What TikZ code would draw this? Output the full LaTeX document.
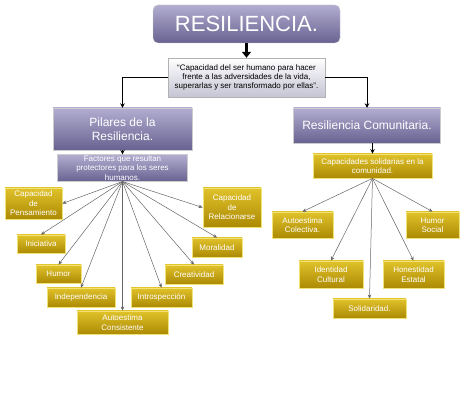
\documentclass[tikz,border=0pt]{standalone}
\usepackage{fontspec}
\setmainfont{Liberation Sans}
\usepackage{xcolor}
\usetikzlibrary{arrows.meta}
\definecolor{pTop}{RGB}{178,173,208}
\definecolor{pBot}{RGB}{104,98,145}
\definecolor{gTop}{RGB}{224,194,42}
\definecolor{gBot}{RGB}{172,138,4}
\definecolor{gEdge}{RGB}{242,226,118}
\definecolor{qBot}{RGB}{196,196,212}

\begin{document}
\begin{tikzpicture}[x=1pt, y=-1pt, font=\fontsize{8}{9.4}\selectfont,
  purplebox/.style={draw=gray!40, top color=pTop, bottom color=pBot, text=white, align=center, inner sep=1pt},
  goldbox/.style={draw=gEdge, line width=0.8pt, top color=gTop, bottom color=gBot, text=white, align=center, inner sep=1pt},
  fan/.style={-{Stealth[length=4pt,width=3.5pt]}, draw=black!60, line width=0.5pt},
  link/.style={-{Stealth[length=4.5pt,width=4.5pt]}, line width=0.9pt}]
\fill[white] (0,0) rectangle (474,403);
\useasboundingbox (0,0) rectangle (474,403);
% top of the map
\node[purplebox, rounded corners=5pt, minimum width=187pt, minimum height=38pt, font=\fontsize{22}{24}\selectfont] (title) at (246.5,24) {RESILIENCIA.};
\node[draw=gray!60, top color=white, bottom color=qBot, align=center, inner sep=1pt, minimum width=157pt, minimum height=39pt] (quote) at (246.5,77.5) {``Capacidad del ser humano para hacer\\ frente a las adversidades de la vida,\\ superarlas y ser transformado por ellas''.};
\node[purplebox, minimum width=139pt, minimum height=42pt, font=\fontsize{12}{14}\selectfont] (pilares) at (122.5,129) {Pilares de la\\ Resiliencia.};
\node[purplebox, minimum width=147pt, minimum height=35pt, font=\fontsize{12}{14}\selectfont] (comun) at (367,125.5) {Resiliencia Comunitaria.};
\node[purplebox, minimum width=130pt, minimum height=26pt] (factores) at (122.5,168) {Factores que resultan\\ protectores para los seres\\ humanos.};
\node[goldbox, minimum width=119pt, minimum height=24pt] (capac) at (372.5,166) {Capacidades solidarias en la\\ comunidad.};
% left branch
\node[goldbox, minimum width=57pt, minimum height=31pt] (pens) at (33.5,203.5) {Capacidad\\ de\\ Pensamiento};
\node[goldbox, minimum width=48pt, minimum height=18pt] (inic) at (41,244) {Iniciativa};
\node[goldbox, minimum width=45pt, minimum height=18pt] (humor) at (58.5,274) {Humor};
\node[goldbox, minimum width=68pt, minimum height=19pt] (indep) at (81,297.5) {Independencia};
\node[goldbox, minimum width=91pt, minimum height=23pt] (autocons) at (122.5,322.5) {Autoestima\\ Consistente};
\node[goldbox, minimum width=61pt, minimum height=19pt] (intro) at (161.5,297.5) {Introspección};
\node[goldbox, minimum width=58pt, minimum height=19pt] (creat) at (194,274.5) {Creatividad};
\node[goldbox, minimum width=50pt, minimum height=19pt] (moral) at (217,247.5) {Moralidad};
\node[goldbox, minimum width=58pt, minimum height=39pt] (relac) at (232,207.5) {Capacidad\\ de\\ Relacionarse};
% right branch
\node[goldbox, minimum width=61pt, minimum height=26pt] (autocol) at (302.5,225) {Autoestima\\ Colectiva.};
\node[goldbox, minimum width=53pt, minimum height=26pt] (humsoc) at (432.5,225) {Humor\\ Social};
\node[goldbox, minimum width=64pt, minimum height=27pt] (ident) at (331,274.5) {Identidad\\ Cultural};
\node[goldbox, minimum width=61pt, minimum height=27pt] (hones) at (413.5,274.5) {Honestidad\\ Estatal};
\node[goldbox, minimum width=73pt, minimum height=19pt] (solid) at (369.5,308.5) {Solidaridad.};
% connectors
\draw[-{Triangle[width=9pt,length=6pt]}, line width=3pt] (title.south) -- (quote.north);
\draw[link] (quote.west) -| (pilares.north);
\draw[link] (quote.east) -| (comun.north);
\draw[link] (pilares.south) -- (factores.north);
\draw[link] (comun.south -| capac.north) -- (capac.north);
\draw[fan] (factores.south) -- (pens.east);
\draw[fan] (factores.south) -- (relac.west);
\foreach \t in {inic,humor,indep,autocons,intro,creat,moral}
  \draw[fan] (factores.south) -- (\t.north);
\foreach \t in {autocol,humsoc,ident,hones,solid}
  \draw[fan] (capac.south) -- (\t.north);
\end{tikzpicture}
\end{document}
